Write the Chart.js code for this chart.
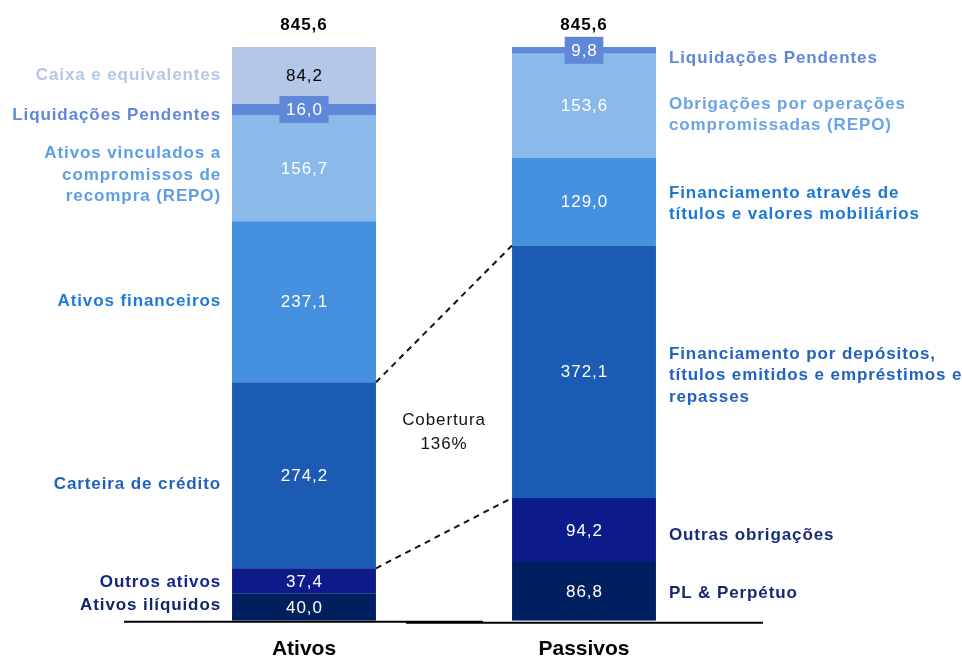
<!DOCTYPE html>
<html>
<head>
<meta charset="utf-8">
<script src="https://cdn.jsdelivr.net/npm/chart.js@4.4.1/dist/chart.umd.min.js"></script>
<style>
  html, body { margin: 0; padding: 0; background: #ffffff; }
  #wrap { width: 962px; height: 656px; position: relative; }
</style>
</head>
<body>
<div id="wrap"><canvas id="c"></canvas></div>
<script>
// ---- Data (bottom to top of each stack) ----
const categories = ['Ativos', 'Passivos'];

const ativosLabels = [
  ['Ativos ilíquidos'],
  ['Outros ativos'],
  ['Carteira de crédito'],
  ['Ativos financeiros'],
  ['Ativos vinculados a', 'compromissos de', 'recompra (REPO)'],
  ['Liquidações Pendentes'],
  ['Caixa e equivalentes']
];
const ativosValues = [40.0, 37.4, 274.2, 237.1, 156.7, 16.0, 84.2];

const passivosLabels = [
  ['PL & Perpétuo'],
  ['Outras obrigações'],
  ['Financiamento por depósitos,', 'títulos emitidos e empréstimos e', 'repasses'],
  ['Financiamento através de', 'títulos e valores mobiliários'],
  ['Obrigações por operações', 'compromissadas (REPO)'],
  ['Liquidações Pendentes']
];
const passivosValues = [86.8, 94.2, 372.1, 129.0, 153.6, 9.8];

const totals = [845.6, 845.6];
const coverageText = ['Cobertura', '136%'];

// ---- Styles ----
const ativosColors   = ['#001F5F', '#0D1B8A', '#1C5BB4', '#4590DF', '#8BB9EA', '#6088D8', '#B4C7E7'];
const ativosText     = ['#102766', '#15238A', '#2262BE', '#1E7AD6', '#5D9CE6', '#6088D8', '#B4C7E7'];
const ativosValCol   = ['#ffffff', '#ffffff', '#ffffff', '#ffffff', '#ffffff', '#ffffff', '#000000'];
const ativosNudge    = [-2, 1, 9, 0, 7, 6, 0];

const passivosColors = ['#001F5F', '#0D1B8A', '#1C5BB4', '#4590DF', '#8BB9EA', '#6088D8'];
const passivosText   = ['#152A6E', '#1A2A78', '#2262BE', '#1C77D2', '#6AA3E6', '#6088D8'];
const passivosValCol = ['#ffffff', '#ffffff', '#ffffff', '#ffffff', '#ffffff', '#ffffff'];
const passivosNudge  = [2, 5, 4, 2, 9, 8];

const fmt = v => v.toFixed(1).replace('.', ',');
const FONT = '"Liberation Sans", Arial, Helvetica, sans-serif';

const datasets = [];
ativosValues.forEach((v, i) => datasets.push({
  label: ativosLabels[i].join(' '), data: [v, null], stack: 's',
  backgroundColor: ativosColors[i], side: 'left', idx: 0,
  textColor: ativosText[i], valColor: ativosValCol[i], nudge: ativosNudge[i],
  lines: ativosLabels[i], boxed: ativosLabels[i][0] === 'Liquidações Pendentes'
}));
passivosValues.forEach((v, i) => datasets.push({
  label: passivosLabels[i].join(' '), data: [null, v], stack: 's',
  backgroundColor: passivosColors[i], side: 'right', idx: 1,
  textColor: passivosText[i], valColor: passivosValCol[i], nudge: passivosNudge[i],
  lines: passivosLabels[i], boxed: passivosLabels[i][0] === 'Liquidações Pendentes'
}));

function spaced(ctx, px) { if ('letterSpacing' in ctx) ctx.letterSpacing = px + 'px'; }

const annotate = {
  id: 'annotate',
  afterDatasetsDraw(chart) {
    const ctx = chart.ctx;
    const ys = chart.scales.y;
    const els = chart.data.datasets.map((ds, di) => chart.getDatasetMeta(di).data[ds.idx]);
    ctx.save();

    // baseline lines
    const a0 = els[0], p0 = els[ativosValues.length];
    ctx.strokeStyle = '#000'; ctx.lineWidth = 2;
    ctx.beginPath();
    ctx.moveTo(a0.x - a0.width / 2 - 108, a0.base + 1);
    ctx.lineTo(a0.x + a0.width / 2 + 107, a0.base + 1);
    ctx.stroke();
    ctx.beginPath();
    ctx.moveTo(p0.x - p0.width / 2 - 106, p0.base + 2);
    ctx.lineTo(p0.x + p0.width / 2 + 107, p0.base + 2);
    ctx.stroke();

    // value labels and side labels
    chart.data.datasets.forEach((ds, di) => {
      const el = els[di];
      const cy = (el.y + el.base) / 2;
      ctx.font = '17px ' + FONT;
      spaced(ctx, 1);
      ctx.textAlign = 'center'; ctx.textBaseline = 'middle';
      const txt = fmt(ds.data[ds.idx]);
      if (ds.boxed) {
        const w = ctx.measureText(txt).width + 12;
        ctx.fillStyle = ds.backgroundColor;
        ctx.fillRect(el.x - w / 2, cy - 13.5, w, 27);
      }
      ctx.fillStyle = ds.valColor;
      ctx.fillText(txt, el.x + 0.5, cy + 1);

      ctx.font = 'bold 17px ' + FONT;
      spaced(ctx, 0.9);
      ctx.fillStyle = ds.textColor;
      const lh = 21.5;
      const n = ds.lines.length;
      const startY = cy + ds.nudge - (n - 1) * lh / 2;
      if (ds.side === 'left') {
        ctx.textAlign = 'right';
        const lx = el.x - el.width / 2 - 11;
        ds.lines.forEach((l, k) => ctx.fillText(l, lx, startY + k * lh));
      } else {
        ctx.textAlign = 'left';
        const lx = el.x + el.width / 2 + 13;
        ds.lines.forEach((l, k) => ctx.fillText(l, lx, startY + k * lh));
      }
    });

    // totals
    ctx.font = 'bold 17px ' + FONT;
    spaced(ctx, 1);
    ctx.fillStyle = '#000'; ctx.textAlign = 'center'; ctx.textBaseline = 'middle';
    const topA = els[ativosValues.length - 1];
    const topP = els[els.length - 1];
    ctx.fillText(fmt(totals[0]), topA.x, topA.y - 22);
    ctx.fillText(fmt(totals[1]), topP.x, topP.y - 22);

    // dashed connectors
    const carteira = els[2];
    const depositos = els[ativosValues.length + 2];
    const outros = els[1];
    const outrasObr = els[ativosValues.length + 1];
    ctx.strokeStyle = '#111'; ctx.lineWidth = 2; ctx.setLineDash([6, 5]);
    ctx.beginPath();
    ctx.moveTo(carteira.x + carteira.width / 2, carteira.y);
    ctx.lineTo(depositos.x - depositos.width / 2, depositos.y);
    ctx.stroke();
    ctx.beginPath();
    ctx.moveTo(outros.x + outros.width / 2, outros.y);
    ctx.lineTo(outrasObr.x - outrasObr.width / 2, outrasObr.y);
    ctx.stroke();
    ctx.setLineDash([]);

    // coverage text
    ctx.font = '17px ' + FONT;
    spaced(ctx, 0.9);
    ctx.fillStyle = '#111';
    const mx = (carteira.x + carteira.width / 2 + depositos.x - depositos.width / 2) / 2;
    const my = ys.getPixelForValue(277);
    ctx.fillText(coverageText[0], mx, my - 12);
    ctx.fillText(coverageText[1], mx, my + 12);

    ctx.restore();
  }
};

new Chart(document.getElementById('c'), {
  type: 'bar',
  data: { labels: categories, datasets },
  options: {
    responsive: true,
    maintainAspectRatio: false,
    animation: false,
    layout: { padding: { left: 164, right: 238, top: 10, bottom: -22 } },
    datasets: { bar: { categoryPercentage: 1.0, barPercentage: 0.514, borderWidth: 0 } },
    plugins: { legend: { display: false }, tooltip: { enabled: false } },
    scales: {
      x: {
        stacked: true,
        grid: { display: false, drawTicks: false },
        border: { display: false },
        ticks: { color: '#000', padding: 16, font: { family: FONT, size: 21, weight: 'bold' } }
      },
      y: { stacked: true, display: false, min: 0, max: 900 }
    }
  },
  plugins: [annotate]
});
</script>
</body>
</html>
